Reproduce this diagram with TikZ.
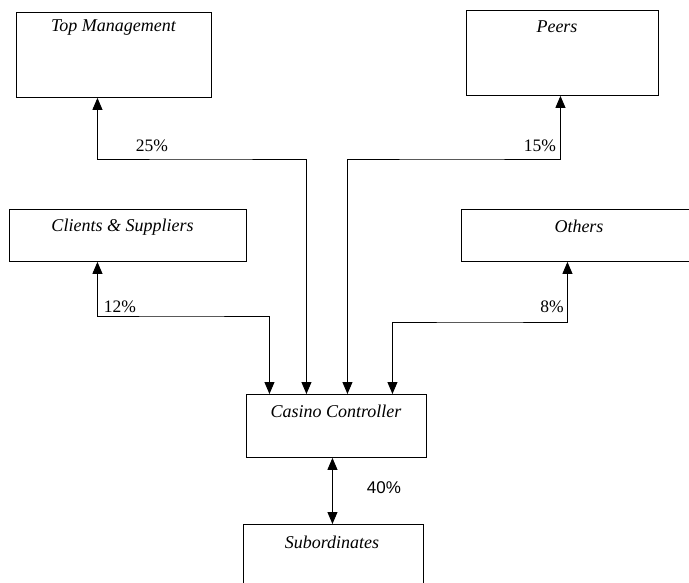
\documentclass[tikz,border=0pt]{standalone}
\usepackage{fontspec}
\setmainfont{Liberation Serif}
\newfontfamily\arialf{Liberation Sans}
\usetikzlibrary{arrows.meta}
\begin{document}
\begin{tikzpicture}[x=1pt,y=-1pt,
  box/.style={draw,line width=0.9pt,inner sep=0pt,anchor=north west},
  title/.style={anchor=center,inner sep=0pt,font=\fontsize{18}{20}\selectfont\itshape},
  pct/.style={anchor=center,inner sep=0pt,font=\fontsize{17.5}{20}\selectfont},
  conn/.style={line width=0.9pt,{Triangle[length=12pt,width=10pt]}-{Triangle[length=12pt,width=10pt]}}]
\useasboundingbox (0,0) rectangle (689,583);
\begin{scope}
\clip (0,0) rectangle (689,583);
% boxes
\node[box,minimum width=195pt,minimum height=85pt] (tm) at (16,12) {};
\node[box,minimum width=192pt,minimum height=85pt] (peers) at (466,10) {};
\node[box,minimum width=237pt,minimum height=52pt] (cs) at (9,209) {};
\node[box,minimum width=240pt,minimum height=52pt] (oth) at (461,209) {};
\node[box,minimum width=180pt,minimum height=63pt] (cc) at (246,394) {};
\node[box,minimum width=180pt,minimum height=80pt] (sub) at (243,524) {};
\end{scope}
% titles
\node[title] (tmt) at (113.5,28) {Top Management};
\node[title] (peerst) at (557,27) {Peers};
\node[title] (cst) at (122.5,227) {Clients \& Suppliers};
\node[title] (otht) at (579,226) {Others};
\node[title] (cct) at (336,411) {Casino Controller};
\node[title] (subt) at (332,542) {Subordinates};
% bend coordinates
\coordinate (b1) at (200,159);
\coordinate (b2) at (450,159);
\coordinate (b3) at (180,316);
\coordinate (b4) at (480,322);
% connectors
\draw[conn] ([xshift=-16.5pt]tm.south) |- (b1) -| ([xshift=-30pt]cc.north);
\draw[conn] ([xshift=-2pt]peers.south) |- (b2) -| ([xshift=11pt]cc.north);
\draw[conn] ([xshift=-30.5pt]cs.south) |- (b3) -| ([xshift=-67pt]cc.north);
\draw[conn] ([xshift=-14pt]oth.south) |- (b4) -| ([xshift=56pt]cc.north);
\draw[conn] ([xshift=-4pt]cc.south) -- ([xshift=-4pt]cc.south |- sub.north);
% labels
\node[pct] (p25) at (152,146) {25\%};
\node[pct] (p15) at (540,146) {15\%};
\node[pct] (p12) at (120,307) {12\%};
\node[pct] (p8) at (552,307) {8\%};
\node[pct,font=\arialf\fontsize{17}{20}\selectfont] (p40) at (384,488) {40\%};
\end{tikzpicture}
\end{document}
